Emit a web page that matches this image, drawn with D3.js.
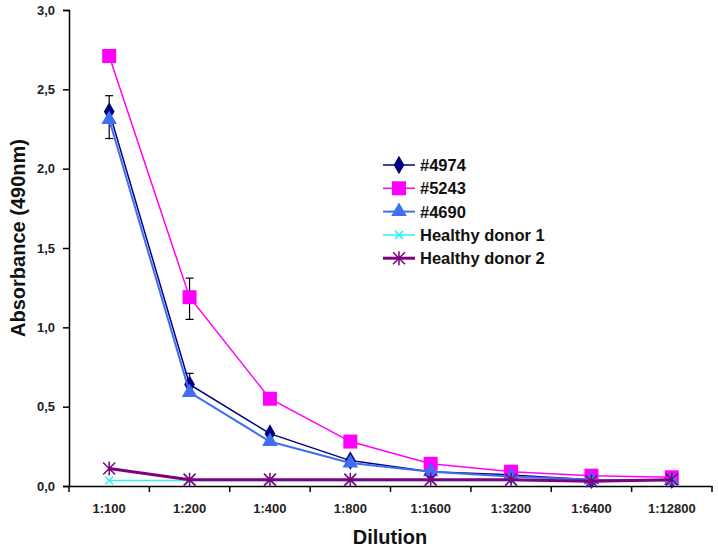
<!DOCTYPE html>
<html><head><meta charset="utf-8">
<script src="https://cdn.jsdelivr.net/npm/d3@7"></script>
<style>body{margin:0;background:#fff}text{font-family:"Liberation Sans",Arial,sans-serif;font-weight:bold}</style>
</head><body><svg id="c" width="718" height="548"></svg>
<script>
const categories = ["1:100","1:200","1:400","1:800","1:1600","1:3200","1:6400","1:12800"];
const s4974 = [2.36,0.64,0.33,0.16,0.09,0.07,0.04,0.04];
const s5243 = [2.71,1.19,0.55,0.28,0.14,0.09,0.065,0.055];
const s4690 = [2.31,0.59,0.28,0.145,0.09,0.06,0.04,0.035];
const hd1 = [0.035,0.035,0.035,0.035,0.035,0.035,0.03,0.035];
const hd2 = [0.11,0.04,0.04,0.04,0.04,0.04,0.03,0.04];
const yTicks = [0,0.5,1,1.5,2,2.5,3];
const errBars = [{s:"#4974",i:0,lo:2.19,hi:2.46},{s:"#5243",i:1,lo:1.05,hi:1.31},{s:"#4974",i:1,lo:0.57,hi:0.71}];

const series = [
  {name:"#4974",vals:s4974,color:"#000080",sym:"diamond",lw:1.5},
  {name:"#5243",vals:s5243,color:"#FF00FF",sym:"square",lw:1.5},
  {name:"#4690",vals:s4690,color:"#3F6FF0",sym:"triangle",lw:2},
  {name:"Healthy donor 1",vals:hd1,color:"#33EEEE",sym:"x",lw:1.5},
  {name:"Healthy donor 2",vals:hd2,color:"#800080",sym:"star",lw:3}
];

const svg = d3.select("#c");
const x = d3.scaleBand().domain(categories).range([69,712]);
const y = d3.scaleLinear().domain([0,3]).range([486,10]);
const cx = c => x(c)+x.bandwidth()/2;

const xa = svg.append("g").attr("transform","translate(0,486)")
  .call(d3.axisBottom(x).tickSize(0).tickPadding(18));
xa.select(".domain").attr("stroke","#000").attr("stroke-width",1.5);
xa.selectAll("text").attr("font-size",13).attr("fill","#222");
svg.append("g").selectAll("line").data(d3.range(categories.length+1)).join("line")
  .attr("x1",i=>69+i*x.step()).attr("x2",i=>69+i*x.step())
  .attr("y1",486).attr("y2",492).attr("stroke","#000").attr("stroke-width",1.5);

const ya = svg.append("g").attr("transform","translate(69,0)")
  .call(d3.axisLeft(y).tickValues(yTicks).tickSize(6).tickPadding(8)
    .tickFormat(d=>d3.format(".1f")(d).replace(".",",")));
ya.select(".domain").attr("stroke","#000").attr("stroke-width",1.5);
ya.selectAll(".tick line").attr("stroke-width",1.5);
ya.selectAll("text").attr("font-size",13).attr("fill","#222");

svg.append("text").attr("x",390).attr("y",544).attr("text-anchor","middle")
  .attr("font-size",20).attr("fill","#111").text("Dilution");
svg.append("text").attr("transform","translate(25,238) rotate(-90)").attr("text-anchor","middle")
  .attr("font-size",20).attr("fill","#111").text("Absorbance (490nm)");

function marker(g, sym, color, px, py){
  if(sym==="diamond") g.append("path").attr("d",d3.symbol(d3.symbolDiamond,100)()).attr("transform",`translate(${px},${py})`).attr("fill",color);
  else if(sym==="square") g.append("rect").attr("x",px-7).attr("y",py-7).attr("width",14).attr("height",14).attr("fill",color);
  else if(sym==="triangle") g.append("path").attr("d",d3.symbol(d3.symbolTriangle,105)()).attr("transform",`translate(${px},${py})`).attr("fill",color);
  else if(sym==="x") g.append("path").attr("d",`M${px-4},${py-4}L${px+4},${py+4}M${px-4},${py+4}L${px+4},${py-4}`).attr("stroke",color).attr("stroke-width",1.5);
  else if(sym==="star") g.append("path").attr("d",`M${px-6},${py-6}L${px+6},${py+6}M${px-6},${py+6}L${px+6},${py-6}M${px},${py-7}L${px},${py+7}`).attr("stroke",color).attr("stroke-width",1.5);
}

errBars.forEach(e=>{
  const g = svg.append("g").attr("stroke","#000").attr("stroke-width",1.2);
  const px = cx(categories[e.i]);
  g.append("line").attr("x1",px).attr("x2",px).attr("y1",y(e.lo)).attr("y2",y(e.hi));
  [e.lo,e.hi].forEach(v=>g.append("line").attr("x1",px-4).attr("x2",px+4).attr("y1",y(v)).attr("y2",y(v)));
});

const line = d3.line().x((d,i)=>cx(categories[i])).y(d=>y(d));
series.forEach(s=>{
  const g = svg.append("g");
  g.append("path").attr("d",line(s.vals)).attr("fill","none").attr("stroke",s.color).attr("stroke-width",s.lw);
  s.vals.forEach((v,i)=>marker(g,s.sym,s.color,cx(categories[i]),y(v)));
});

const lg = svg.append("g");
series.forEach((s,i)=>{
  const ly = 165 + i*23.3;
  lg.append("line").attr("x1",383).attr("x2",415).attr("y1",ly).attr("y2",ly).attr("stroke",s.color).attr("stroke-width",s.lw);
  marker(lg,s.sym,s.color,399,ly);
  lg.append("text").attr("x",420).attr("y",ly+6).attr("font-size",16.5).attr("fill","#111").text(s.name);
});
</script></body></html>
